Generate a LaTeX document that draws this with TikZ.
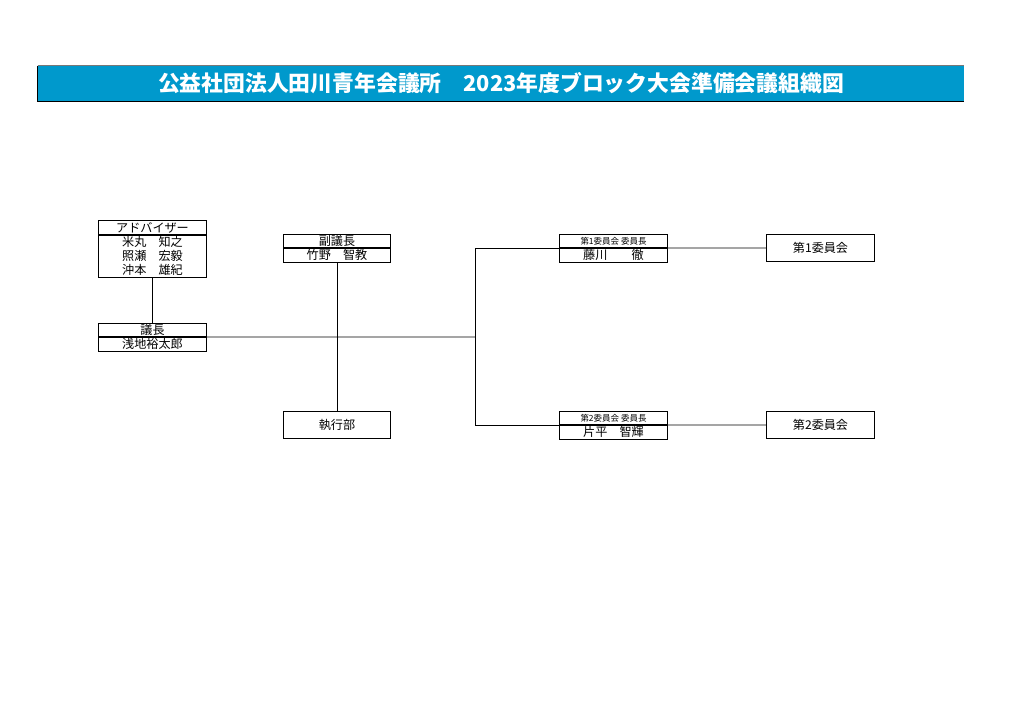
\documentclass[tikz,border=0pt]{standalone}
\usepackage{fontspec}
\setmainfont{Noto Sans CJK JP}
\usetikzlibrary{positioning}

\begin{document}
\begin{tikzpicture}[
    x=0.29mm, y=-0.29mm,
    % Define colors
    /utils/exec={
        \definecolor{titleBlue}{RGB}{0, 153, 204}
        \definecolor{titleEdge}{RGB}{120, 120, 120}
    },
    % Node Styles
    cell/.style={
        draw=black, line width=0.6pt, inner sep=0pt,
        minimum width=31.2mm, minimum height=3.9mm,
        align=center, font=\fontsize{10}{11.5}\selectfont
    },
    smallCell/.style={cell, font=\fontsize{7}{8}\selectfont},
    unitBox/.style={cell, minimum height=7.8mm},
    conn/.style={draw=black, line width=0.6pt}
]
\useasboundingbox (0,0) rectangle (1024,724);

% =================================================================
% TITLE BAR
% =================================================================
\node[fill=titleBlue, minimum width=268.5mm, minimum height=10.2mm, inner sep=0pt,
      text=white, font=\fontsize{18}{20}\selectfont\bfseries] (titleBar) at (501, 83.5)
      {公益社団法人田川青年会議所　2023年度ブロック大会準備会議組織図};
\draw[titleEdge, line width=0.8pt] (titleBar.north west) -- (titleBar.north east);
\draw[black, line width=0.8pt] (titleBar.north west) -- (titleBar.south west) -- (titleBar.south east);

% =================================================================
% LEFT SIDE: ADVISORS, CHAIRMAN, VICE, EXECUTIVE
% =================================================================

% --- Advisors ---
\node[cell] (advHead) at (152.5, 227.5) {アドバイザー};
\node[cell, below=0pt of advHead, minimum height=12.2mm] (advBody) {米丸　知之\\照瀬　宏毅\\沖本　雄紀};

% --- Chairman ---
\node[cell] (chairHead) at (152.5, 330) {議長};
\node[cell, below=0pt of chairHead] (chairBody) {浅地裕太郎};

% --- Vice Chairman ---
\node[cell] (viceHead) at (337, 241) {副議長};
\node[cell, below=0pt of viceHead] (viceBody) {竹野　智教};

% --- Executive ---
\node[unitBox] (execBox) at (337, 425) {執行部};

% =================================================================
% RIGHT SIDE: COMMITTEES
% =================================================================
\coordinate (branchPt) at (475, 337);

% --- Committee 1 ---
\node[smallCell] (c1Head) at (613.5, 241) {第1委員会 委員長};
\node[cell, below=0pt of c1Head] (c1Body) {藤川　　徹};
\node[unitBox] (c1Box) at (820.5, 248) {第1委員会};

% --- Committee 2 ---
\node[smallCell] (c2Head) at (613.5, 418) {第2委員会 委員長};
\node[cell, below=0pt of c2Head] (c2Body) {片平　智輝};
\node[unitBox] (c2Box) at (820.5, 425) {第2委員会};

% Connections
\draw[conn] (advBody.south) -- (chairHead.north);
\draw[conn] (viceBody.south) -- (execBox.north);
\draw[conn] (chairHead.south east) -- (branchPt);
\draw[conn] (branchPt) |- (c1Head.south west);
\draw[conn] (branchPt) |- (c2Head.south west);
\draw[conn] (c1Head.south east) -- (c1Box.west);
\draw[conn] (c2Head.south east) -- (c2Box.west);

\end{tikzpicture}
\end{document}
